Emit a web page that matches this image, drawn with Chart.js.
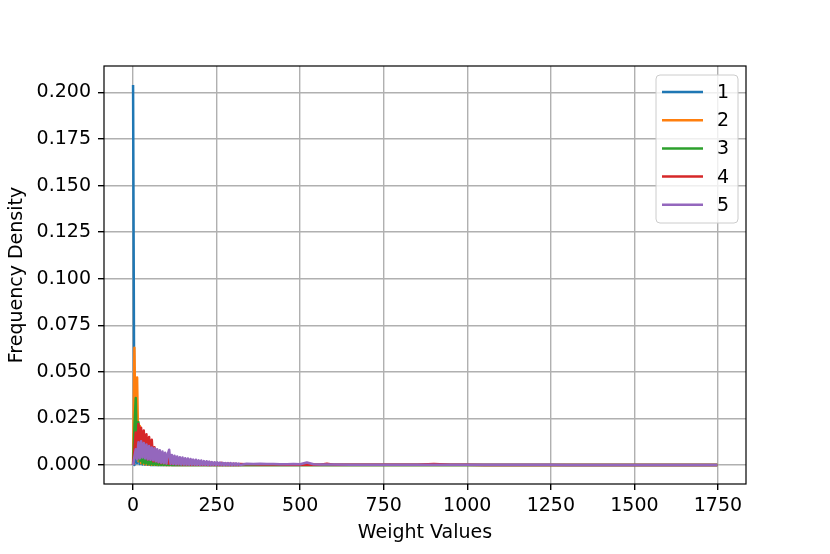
<!DOCTYPE html>
<html>
<head>
<meta charset="utf-8">
<script src="https://cdn.jsdelivr.net/npm/chart.js@4.4.0/dist/chart.umd.min.js"></script>
<style>
  html, body { margin: 0; padding: 0; background: #ffffff; }
  #wrap { width: 830px; height: 554px; }
</style>
</head>
<body>
<div id="wrap"><canvas id="chart" width="830" height="554"></canvas></div>
<script>
// bin centres (weight values), shared by every series
const binCentres = [
    0, 4, 8, 12, 16, 20, 24, 28, 32, 36,
    40, 44, 48, 52, 56, 60, 64, 68, 72, 76,
    80, 84, 88, 92, 96, 100, 104, 108, 112, 116,
    120, 124, 128, 132, 136, 140, 144, 148, 152, 156,
    160, 164, 168, 172, 176, 180, 184, 188, 192, 196,
    200, 204, 208, 212, 216, 220, 224, 228, 232, 236,
    240, 244, 248, 252, 256, 260, 264, 268, 272, 276,
    280, 284, 288, 292, 296, 300, 304, 308, 312, 316,
    320,
    340, 360, 380, 400, 420, 440, 460, 480, 500, 520, 540, 560, 580, 600,
    650, 700, 750, 800, 850, 900, 950, 1000, 1050, 1100, 1150, 1200, 1250, 1300, 1350, 1400, 1450, 1500, 1550, 1600, 1650, 1700, 1748
];

const density1 = [
    0.204, 0, 0.012, 0.001, 0.0068, 0.0005, 0.0058, 0.0003, 0.0030, 0.0002,
    0.0012, 0.0001, 0.0005, 0, 0, 0, 0, 0, 0, 0,
    0, 0, 0, 0, 0, 0, 0, 0, 0, 0,
    0, 0, 0, 0, 0, 0, 0, 0, 0, 0,
    0, 0, 0, 0, 0, 0, 0, 0, 0, 0,
    0, 0, 0, 0, 0, 0, 0, 0, 0, 0,
    0, 0, 0, 0, 0, 0, 0, 0, 0, 0,
    0, 0, 0, 0, 0, 0, 0, 0, 0, 0,
    0,
    0, 0, 0, 0, 0, 0, 0, 0, 0, 0, 0, 0, 0, 0,
    0, 0, 0, 0, 0, 0, 0, 0, 0, 0, 0, 0, 0, 0, 0, 0, 0, 0, 0, 0, 0, 0, 0
];

const density2 = [
    0, 0.063, 0.004, 0.047, 0.002, 0.021, 0.001, 0.0075, 0.0005, 0.0036,
    0.0003, 0.0040, 0.0002, 0.0042, 0.0001, 0.0030, 0.0001, 0.0016, 0, 0.0008,
    0, 0.0004, 0, 0.0002, 0, 0, 0, 0, 0, 0,
    0, 0, 0, 0, 0, 0, 0, 0, 0, 0,
    0, 0, 0, 0, 0, 0, 0, 0, 0, 0,
    0, 0, 0, 0, 0, 0, 0, 0, 0, 0,
    0, 0, 0, 0, 0, 0, 0, 0, 0, 0,
    0, 0, 0, 0, 0, 0, 0, 0, 0, 0,
    0,
    0, 0, 0, 0, 0, 0, 0, 0, 0, 0, 0, 0, 0, 0,
    0, 0, 0, 0, 0, 0, 0, 0, 0, 0, 0, 0, 0, 0, 0, 0, 0, 0, 0, 0, 0, 0, 0
];

const density3 = [
    0, 0.020, 0.036, 0.003, 0.023, 0.002, 0.013, 0.001, 0.0065, 0.0008,
    0.0042, 0.0005, 0.0030, 0.0003, 0.0024, 0.0002, 0.0018, 0.0001, 0.0013, 0,
    0.0010, 0, 0.0007, 0, 0.0005, 0, 0.0003, 0, 0.0002, 0,
    0, 0, 0, 0, 0, 0, 0, 0, 0, 0,
    0, 0, 0, 0, 0, 0, 0, 0, 0, 0,
    0, 0, 0, 0, 0, 0, 0, 0, 0, 0,
    0, 0, 0, 0, 0, 0, 0, 0, 0, 0,
    0, 0, 0, 0, 0, 0, 0, 0, 0, 0,
    0,
    0, 0, 0, 0, 0, 0, 0, 0, 0, 0, 0, 0, 0, 0,
    0, 0, 0, 0, 0, 0, 0, 0, 0, 0, 0, 0, 0, 0, 0, 0, 0, 0, 0, 0, 0, 0, 0
];

const density4 = [
    0, 0.009, 0.0175, 0.004, 0.022, 0.006, 0.020, 0.005, 0.0185, 0.004,
    0.0165, 0.003, 0.0150, 0.003, 0.0135, 0.002, 0.0095, 0.002, 0.0078, 0.0015,
    0.0068, 0.001, 0.0060, 0.001, 0.0054, 0.0008, 0.0050, 0.0007, 0.0045, 0.0006,
    0.0041, 0.0005, 0.0038, 0.0004, 0.0034, 0.0004, 0.0031, 0.0003, 0.0029, 0.0003,
    0.0026, 0.0003, 0.0024, 0.0002, 0.0022, 0.0002, 0.0020, 0.0002, 0.0018, 0.0002,
    0.0017, 0.0001, 0.0015, 0.0001, 0.0014, 0.0001, 0.0013, 0.0001, 0.0012, 0.0001,
    0.0011, 0.0001, 0.0010, 0.0001, 0.0009, 0, 0.0012, 0, 0.0008, 0,
    0.0007, 0, 0.0007, 0, 0.0006, 0, 0.0006, 0, 0.0005, 0,
    0.0005,
    0.0004, 0.0004, 0.0003, 0.0003, 0.0003, 0.0003, 0.0002, 0.0002, 0.0002, 0.0002, 0.0002, 0.0002, 0.0007, 0.0002,
    0.0001, 0.0001, 0.0001, 0.0001, 0.0001, 0.0006, 0.0001, 0.0001, 0, 0, 0, 0, 0, 0, 0, 0, 0, 0, 0, 0, 0, 0, 0
];

const density5 = [
    0, 0.0045, 0.0085, 0.0030, 0.0122, 0.0035, 0.0128, 0.0040, 0.0118, 0.0035,
    0.0110, 0.0030, 0.0102, 0.0028, 0.0094, 0.0025, 0.0090, 0.0020, 0.0084, 0.0015,
    0.0079, 0.0012, 0.0072, 0.0010, 0.0066, 0.0008, 0.0060, 0.0082, 0.0006, 0.0054,
    0.0005, 0.0050, 0.0004, 0.0046, 0.0004, 0.0042, 0.0003, 0.0040, 0.0003, 0.0036,
    0.0002, 0.0035, 0.0002, 0.0032, 0.0002, 0.0029, 0.0001, 0.0028, 0.0001, 0.0025,
    0.0001, 0.0024, 0.0001, 0.0021, 0.0001, 0.0020, 0, 0.0018, 0, 0.0016,
    0, 0.0015, 0, 0.0014, 0, 0.0013, 0, 0.0012, 0, 0.0011,
    0, 0.0011, 0, 0.0010, 0, 0.0009, 0, 0.0009, 0, 0.0008,
    0,
    0.0007, 0.0006, 0.0007, 0.0005, 0.0005, 0.0004, 0.0004, 0.0005, 0.0004, 0.0013, 0.0004, 0.0003, 0.0003, 0.0003,
    0.0002, 0.0002, 0.0002, 0.0001, 0.0001, 0.0002, 0.0001, 0.0001, 0.0001, 0.0001, 0.0001, 0.0001, 0.0001, 0, 0, 0, 0, 0, 0, 0, 0, 0, 0
];

const seriesLabels = ['1', '2', '3', '4', '5'];
const xTickValues = [0, 250, 500, 750, 1000, 1250, 1500, 1750];
const yTickValues = [0, 0.025, 0.05, 0.075, 0.1, 0.125, 0.15, 0.175, 0.2];

// matplotlib tab10
const palette = ['#1f77b4', '#ff7f0e', '#2ca02c', '#d62728', '#9467bd'];
const FONT = 'DejaVu Sans';
const FONT_SIZE = 19;

const allDensities = [density1, density2, density3, density4, density5];

const datasets = allDensities.map((ys, i) => ({
    label: seriesLabels[i],
    data: binCentres.map((x, k) => ({ x: x, y: ys[k] })),
    borderColor: palette[i],
    borderWidth: 2.5,
    borderJoinStyle: 'round',
    pointRadius: 0,
    fill: false,
    tension: 0,
    order: allDensities.length - i   // last series drawn on top, like matplotlib
}));

// black frame round the plot area
const framePlugin = {
    id: 'frame',
    afterDraw(chart) {
        const { ctx, chartArea: a } = chart;
        ctx.save();
        ctx.strokeStyle = '#000000';
        ctx.lineWidth = 1.2;
        ctx.strokeRect(a.left, a.top, a.right - a.left, a.bottom - a.top);
        ctx.restore();
    }
};

// matplotlib style legend, upper right inside the axes
const boxLegendPlugin = {
    id: 'boxLegend',
    afterDraw(chart) {
        const { ctx, chartArea: a } = chart;
        const w = 82, h = 148;
        const x = a.right - 8 - w;
        const y = a.top + 9;
        const r = 4;
        ctx.save();
        ctx.beginPath();
        ctx.moveTo(x + r, y);
        ctx.arcTo(x + w, y, x + w, y + h, r);
        ctx.arcTo(x + w, y + h, x, y + h, r);
        ctx.arcTo(x, y + h, x, y, r);
        ctx.arcTo(x, y, x + w, y, r);
        ctx.closePath();
        ctx.fillStyle = 'rgba(255, 255, 255, 0.8)';
        ctx.fill();
        ctx.strokeStyle = '#cccccc';
        ctx.lineWidth = 1;
        ctx.stroke();

        ctx.font = FONT_SIZE + 'px "' + FONT + '"';
        ctx.textBaseline = 'middle';
        ctx.textAlign = 'left';
        chart.data.datasets.forEach((ds, i) => {
            const rowY = y + 17 + i * 28.2;
            ctx.strokeStyle = ds.borderColor;
            ctx.lineWidth = 2.5;
            ctx.beginPath();
            ctx.moveTo(x + 6, rowY);
            ctx.lineTo(x + 47, rowY);
            ctx.stroke();
            ctx.fillStyle = '#000000';
            ctx.fillText(ds.label, x + 61, rowY + 1);
        });
        ctx.restore();
    }
};

new Chart(document.getElementById('chart'), {
    type: 'line',
    data: { datasets },
    options: {
        responsive: false,
        animation: false,
        layout: { padding: { top: 66, right: 84, bottom: 0, left: 0 } },
        scales: {
            x: {
                type: 'linear',
                min: -87,
                max: 1834,
                afterFit(scale) { scale.height = 70; },
                afterBuildTicks(scale) { scale.ticks = xTickValues.map(v => ({ value: v })); },
                grid: { color: '#b0b0b0', lineWidth: 1.4, tickColor: '#000000', tickLength: 6 },
                border: { display: false },
                ticks: {
                    color: '#000000',
                    padding: 5,
                    maxRotation: 0,
                    font: { family: FONT, size: FONT_SIZE },
                    callback: v => String(v)
                },
                title: {
                    display: true,
                    text: 'Weight Values',
                    color: '#000000',
                    font: { family: FONT, size: FONT_SIZE },
                    padding: { top: 0, bottom: 10 }
                }
            },
            y: {
                type: 'linear',
                min: -0.0102,
                max: 0.2142,
                afterFit(scale) { scale.width = 104; },
                afterBuildTicks(scale) { scale.ticks = yTickValues.map(v => ({ value: v })); },
                grid: { color: '#b0b0b0', lineWidth: 1.4, tickColor: '#000000', tickLength: 6 },
                border: { display: false },
                ticks: {
                    color: '#000000',
                    padding: 7,
                    font: { family: FONT, size: FONT_SIZE },
                    callback: v => Number(v).toFixed(3)
                },
                title: {
                    display: true,
                    text: 'Frequency Density',
                    color: '#000000',
                    font: { family: FONT, size: FONT_SIZE },
                    padding: { top: 6, bottom: 0 }
                }
            }
        },
        plugins: {
            legend: { display: false },
            tooltip: { enabled: false }
        }
    },
    plugins: [framePlugin, boxLegendPlugin]
});
</script>
</body>
</html>
